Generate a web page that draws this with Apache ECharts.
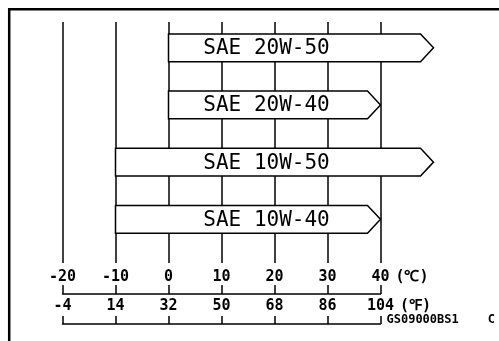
<!DOCTYPE html>
<html>
<head>
<meta charset="utf-8">
<script src="https://cdn.jsdelivr.net/npm/echarts@6/dist/echarts.min.js"></script>
<style>
  html, body { margin: 0; padding: 0; background: #fff; }
  #chart { width: 499px; height: 341px; }
</style>
</head>
<body>
<div id="chart"></div>
<script>
  // oil grades and their usable temperature range (°C)
  var grades = ['SAE 20W-50', 'SAE 20W-40', 'SAE 10W-50', 'SAE 10W-40']
  var lowC = [0, 0, -10, -10]
  var highC = [50, 40, 50, 40]
  var ticksC = [-20, -10, 0, 10, 20, 30, 40]

  var mono = 'DejaVu Sans Mono'
  var textAt = 18.5

  var data = []
  for (var i = 0; i < grades.length; i++) {
    data.push([i, lowC[i], highC[i]])
  }

  // C -> F for the second scale
  function toF (v) {
    return String(Math.round(v * 9 / 5 + 32))
  }

  var myChart = echarts.init(document.getElementById('chart'), null, {renderer: 'canvas'})
  var hidY = {type: 'value', show: false}
  var base = {type: 'value', min: ticksC[0], max: ticksC[ticksC.length - 1], interval: 10}
  var labelFont = {color: '#000', fontFamily: mono, fontSize: 15, fontWeight: 'bold'}

  var option = {
    animation: false,
    backgroundColor: '#fff',
    graphic: [{
      type: 'rect',
      shape: {x: 9.2, y: 9.2, width: 700, height: 700},
      style: {fill: 'none', stroke: '#000', lineWidth: 2.5}
    }],
    grid: [
      {left: 62.5, right: 118.5, top: 22, bottom: 78},
      {left: 62.5, right: 118.5, top: 22, bottom: 47},
      {left: 62.5, right: 118.5, top: 22, bottom: 17},
      {left: 62.5, right: 118.5, top: 19.2, bottom: 93.1}
    ],
    xAxis: [
      Object.assign({}, base, {
        gridIndex: 0,
        position: 'bottom',
        axisLine: {show: false},
        axisTick: {show: false},
        axisLabel: Object.assign({margin: 7}, labelFont),
        splitLine: {show: true, lineStyle: {color: '#000', width: 1.5}},
        name: '(℃)',
        nameLocation: 'end',
        nameGap: 14,
        nameTextStyle: Object.assign({verticalAlign: 'top', padding: [7, 0, 0, 0]}, labelFont)
      }),
      Object.assign({}, base, {
        gridIndex: 1,
        position: 'bottom',
        axisLine: {show: true, lineStyle: {color: '#000', width: 1.5}},
        axisTick: {show: true, inside: true, length: 9, lineStyle: {color: '#000', width: 1.5}},
        axisLabel: Object.assign({margin: 5, formatter: toF}, labelFont),
        splitLine: {show: false},
        name: '(℉)',
        nameLocation: 'end',
        nameGap: 15,
        nameTextStyle: Object.assign({verticalAlign: 'top', padding: [5, 0, 0, 0]}, labelFont)
      }),
      Object.assign({}, base, {
        gridIndex: 2,
        position: 'bottom',
        axisLine: {show: true, lineStyle: {color: '#000', width: 1.5}},
        axisTick: {show: true, inside: true, length: 8, lineStyle: {color: '#000', width: 1.5}},
        axisLabel: {show: false},
        splitLine: {show: false},
        name: 'GS09000BS1    C',
        nameLocation: 'end',
        nameGap: 6,
        nameTextStyle: {color: '#000', fontFamily: mono, fontSize: 12, fontWeight: 'bold', verticalAlign: 'bottom', padding: [0, 0, -2, 0]}
      }),
      Object.assign({}, base, {gridIndex: 3, show: false})
    ],
    yAxis: [
      Object.assign({gridIndex: 0}, hidY),
      Object.assign({gridIndex: 1}, hidY),
      Object.assign({gridIndex: 2}, hidY),
      {gridIndex: 3, type: 'category', inverse: true, show: false, data: grades}
    ],
    series: [{
      type: 'custom',
      xAxisIndex: 3,
      yAxisIndex: 3,
      clip: false,
      data: data,
      renderItem: function (params, api) {
        var s = api.coord([api.value(1), api.value(0)])
        var e = api.coord([api.value(2), api.value(0)])
        var t = api.coord([textAt, api.value(0)])
        var h = api.size([0, 1])[1] * 0.485
        var d = 13
        var top = s[1] - h / 2
        var bot = s[1] + h / 2
        return {
          type: 'group',
          children: [{
            type: 'polygon',
            shape: {points: [[s[0], top], [e[0] - d, top], [e[0], s[1]], [e[0] - d, bot], [s[0], bot]]},
            style: {fill: '#fff', stroke: '#000', lineWidth: 1.5}
          }, {
            type: 'text',
            style: {
              text: grades[params.dataIndex],
              x: t[0],
              y: t[1] + 1,
              align: 'center',
              verticalAlign: 'middle',
              fontFamily: mono,
              fontSize: 21,
              fill: '#000'
            }
          }]
        }
      }
    }]
  }
  myChart.setOption(option, true)
</script>
</body>
</html>
